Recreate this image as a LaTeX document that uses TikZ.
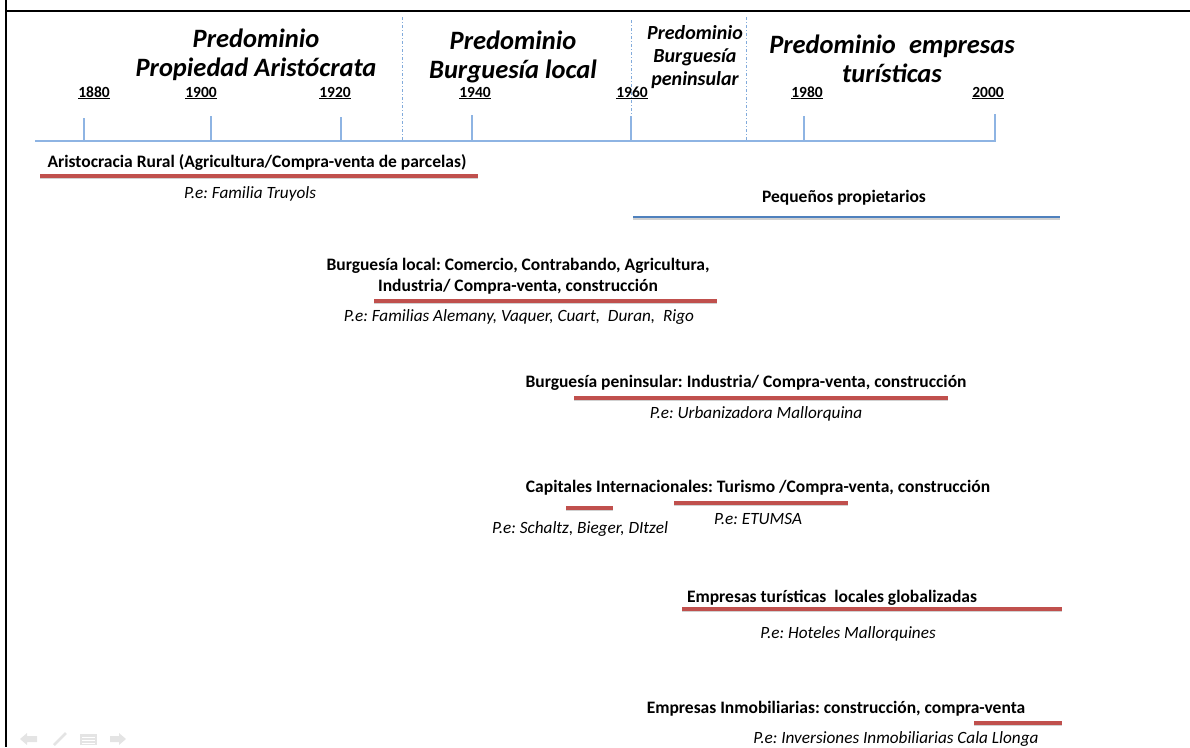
\documentclass[tikz,border=0pt]{standalone}
\usepackage{fontspec}
\setmainfont{Carlito}
\frenchspacing
\usetikzlibrary{positioning}
\definecolor{barred}{HTML}{C0504D}
\definecolor{barblue}{HTML}{4F81BD}
\definecolor{axisblue}{HTML}{8EB4E3}
\definecolor{navgrey}{HTML}{E4E4E4}

\newcommand{\redline}[3]{%
  \draw[barshadow] (#1,#3+1.6) -- (#2,#3+1.6);
  \draw[redbar] (#1,#3) -- (#2,#3);}

\begin{document}
\begin{tikzpicture}[x=1pt,y=-1pt,
  era/.style={font=\fontsize{26.5}{29.5}\selectfont\bfseries\itshape,align=center,inner sep=0pt},
  smallera/.style={font=\fontsize{20}{23}\selectfont\bfseries\itshape,align=center,inner sep=0pt},
  year/.style={font=\fontsize{15.5}{17}\selectfont\bfseries,inner sep=0pt,anchor=base},
  actor/.style={font=\fontsize{17.5}{21}\selectfont\bfseries,align=center,inner sep=0pt},
  example/.style={font=\fontsize{17.2}{19}\selectfont\itshape,inner sep=0pt},
  axis/.style={draw=axisblue,line width=1.1pt},
  eraline/.style={draw=axisblue!80!barblue,line width=0.9pt,dash pattern=on 3pt off 2pt on 1pt off 2pt},
  redbar/.style={draw=barred,line width=3.4pt},
  bluebar/.style={draw=barblue,line width=2.8pt},
  barshadow/.style={draw=black!18,line width=3.4pt},
  nav/.style={fill=navgrey,draw=none}]

  \useasboundingbox (0,0) rectangle (1190,747);

  % frame
  \draw[line width=2.2pt] (6,0) -- (6,747);
  \draw[line width=2.2pt] (5,11) -- (1190,11);

  % periods
  \node[era] (eraArist) at (256,55) {Predominio\\Propiedad Aristócrata};
  \node[era] (eraLocal) at (513,57) {Predominio\\Burguesía local};
  \node[smallera] (eraPenin) at (695,57) {Predominio\\Burguesía\\peninsular};
  \node[era] (eraTur) at (892,59) {Predominio\enspace empresas\\turísticas};

  \draw[eraline] (402,17) -- (402,141);
  \draw[eraline] (631,20) -- (631,116);
  \draw[eraline] (746,17) -- (746,141);

  % time axis
  \coordinate (axisL) at (35,141);
  \coordinate (axisR) at (996,141);
  \draw[axis] (axisL) -- (axisR);
  \foreach \yr/\tx/\lx/\ty in {1880/84/94/118,1900/211/201/116,1920/341/335/117,
      1940/472/475/115,1960/631/632/116,1980/804/807/116,2000/995/988/114}{
    \node[year] (y\yr) at (\lx,97) {\underline{\yr}};
    \coordinate (t\yr) at (\tx,\ty);
    \draw[axis] (t\yr) -- (t\yr |- axisL);
  }

  % actors
  \node[actor] (arist) at (257,162) {Aristocracia Rural (Agricultura/Compra-venta de parcelas)};
  \redline{40}{478}{176}
  \node[example] (aristEx) at (250,194) {P.e: Familia Truyols};

  \node[actor] (pequenos) at (844,198) {Pequeños propietarios};
  \draw[barshadow] (633,218.5) -- (1060,218.5);
  \draw[bluebar] (633,217) -- (1060,217);

  \node[actor] (burgLocal) at (518,276) {Burguesía local: Comercio, Contrabando, Agricultura,\\Industria/ Compra-venta, construcción};
  \redline{374}{717}{301}
  \node[example] (burgLocalEx) at (519,317) {P.e: Familias Alemany, Vaquer, Cuart,\ \ Duran,\ \ Rigo};

  \node[actor] (burgPenin) at (746,383) {Burguesía peninsular: Industria/ Compra-venta, construcción};
  \redline{574}{948}{398}
  \node[example] (burgPeninEx) at (756,414) {P.e: Urbanizadora Mallorquina};

  \node[actor] (capitales) at (758,488) {Capitales Internacionales: Turismo\ /Compra-venta, construcción};
  \redline{566}{613}{508}
  \redline{674}{848}{503}
  \node[example] (capEx) at (580,529) {P.e: Schaltz, Bieger, DItzel};
  \node[example] (etumsaEx) at (758,519) {P.e: ETUMSA};

  \node[actor] (empTur) at (832,598) {Empresas turísticas\ \ locales globalizadas};
  \redline{682}{1062}{609}
  \node[example] (empTurEx) at (848,634) {P.e: Hoteles Mallorquines};

  \node[actor] (empInm) at (836,709) {Empresas Inmobiliarias: construcción, compra-venta};
  \redline{974}{1062}{723}
  \node[example] (empInmEx) at (896,739) {P.e: Inversiones Inmobiliarias Cala Llonga};

  % slide controls
  \fill[nav] (20,739) -- (27,733) -- (27,736) -- (37,736) -- (37,742) -- (27,742) -- (27,745) -- cycle;
  \draw[navgrey,line width=2.5pt] (54,745) -- (66,733);
  \fill[nav] (80,734) rectangle (97,745);
  \foreach \ly in {737,740,743}
    \draw[white,line width=0.8pt] (82,\ly) -- (95,\ly);
  \fill[nav] (126,739) -- (119,733) -- (119,736) -- (110,736) -- (110,742) -- (119,742) -- (119,745) -- cycle;
\end{tikzpicture}
\end{document}
